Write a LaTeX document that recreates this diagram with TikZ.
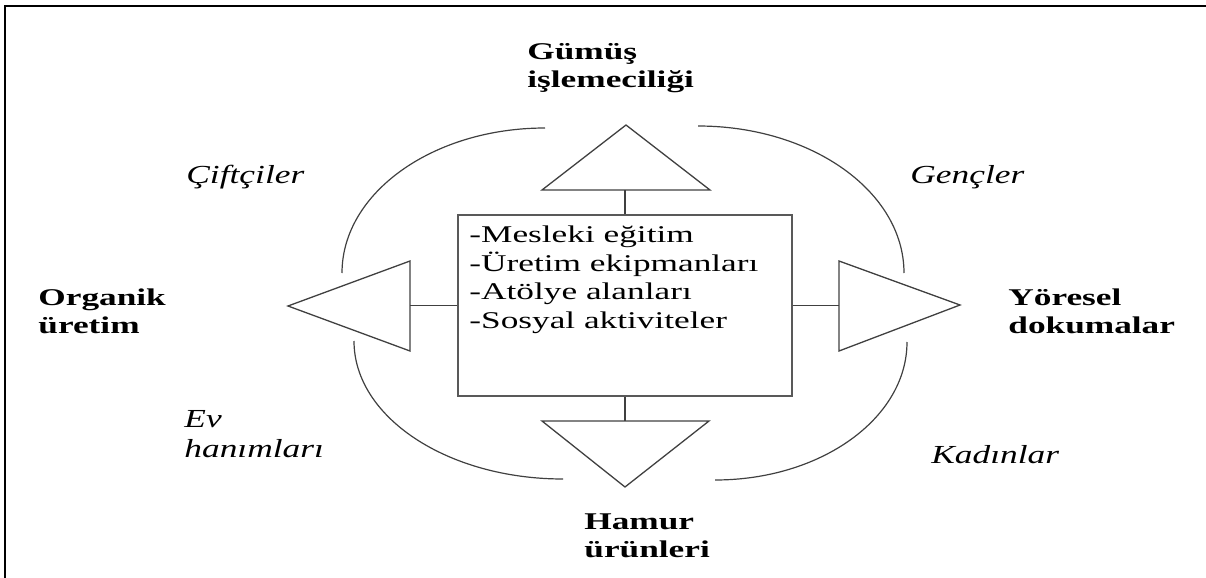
\documentclass[tikz,border=0pt]{standalone}
\usepackage{fontspec}
\setmainfont[FakeStretch=1.47]{Liberation Serif}
\newfontfamily\grpfont[FakeStretch=1.36]{Liberation Serif}

\begin{document}
\begin{tikzpicture}[x=0.5pt,y=0.5pt,
  block/.style={rectangle,draw=black!65,line width=0.75pt,minimum width=167pt,minimum height=90.5pt},
  tri/.style={draw=black!75,line width=0.65pt},
  ring/.style={draw=black!75,line width=0.6pt},
  title/.style={inner sep=0pt,anchor=base west,align=left,font=\fontsize{12}{14}\selectfont\bfseries},
  group/.style={inner sep=0pt,anchor=base west,align=left,font=\grpfont\fontsize{13}{15}\selectfont\itshape},
  item/.style={inner sep=0pt,anchor=base west,align=left,font=\fontsize{12}{14.25}\selectfont}]
\useasboundingbox (0,0) rectangle (1206,-578);
\draw [line width=1pt] (5,-578) -- (5,-6) -- (1206,-6);
% centre box
\node at (625,-305.5) (M) [block] {};
\node at (469,-328) (L) [item] {-Mesleki eğitim\\-Üretim ekipmanları\\-Atölye alanları\\-Sosyal aktiviteler};
% triangles
\draw [tri] (542,-190) -- (626,-125) -- (710,-190) -- cycle;
\draw [tri] (410,-261) -- (288,-306) -- (410,-351) -- cycle;
\draw [tri] (839,-261) -- (960,-305) -- (839,-351) -- cycle;
\draw [tri] (542,-421) -- (625,-487) -- (709,-421) -- cycle;
\coordinate (Gb) at (625,-190);
\coordinate (Ob) at (410,-305.5);
\coordinate (Yb) at (839,-305.5);
\coordinate (Hb) at (625,-421);
\draw [tri] (M.north) -- (Gb);
\draw [tri] (M.west) -- (Ob);
\draw [tri] (M.east) -- (Yb);
\draw [tri] (M.south) -- (Hb);
% arcs
\draw [ring] (545,-128) arc[start angle=90,end angle=180,x radius=203,y radius=145];
\draw [ring] (698,-126) arc[start angle=90,end angle=0,x radius=206,y radius=147];
\draw [ring] (354,-341) arc[start angle=180,end angle=270,x radius=209,y radius=138];
\draw [ring] (907,-342) arc[start angle=0,end angle=-90,x radius=192,y radius=138];
% labels
\node at (527,-87) (G) [title] {Gümüş\\işlemeciliği};
\node at (38,-333) (O) [title] {Organik\\üretim};
\node at (1008,-333) (Y) [title] {Yöresel\\dokumalar};
\node at (584,-557) (H) [title] {Hamur\\ürünleri};
\node at (186,-183) (C) [group] {Çiftçiler};
\node at (910,-183) (N) [group] {Gençler};
\node at (184,-457) (E) [group] {Ev\\hanımları};
\node at (931,-463) (K) [group] {Kadınlar};
\end{tikzpicture}
\end{document}
